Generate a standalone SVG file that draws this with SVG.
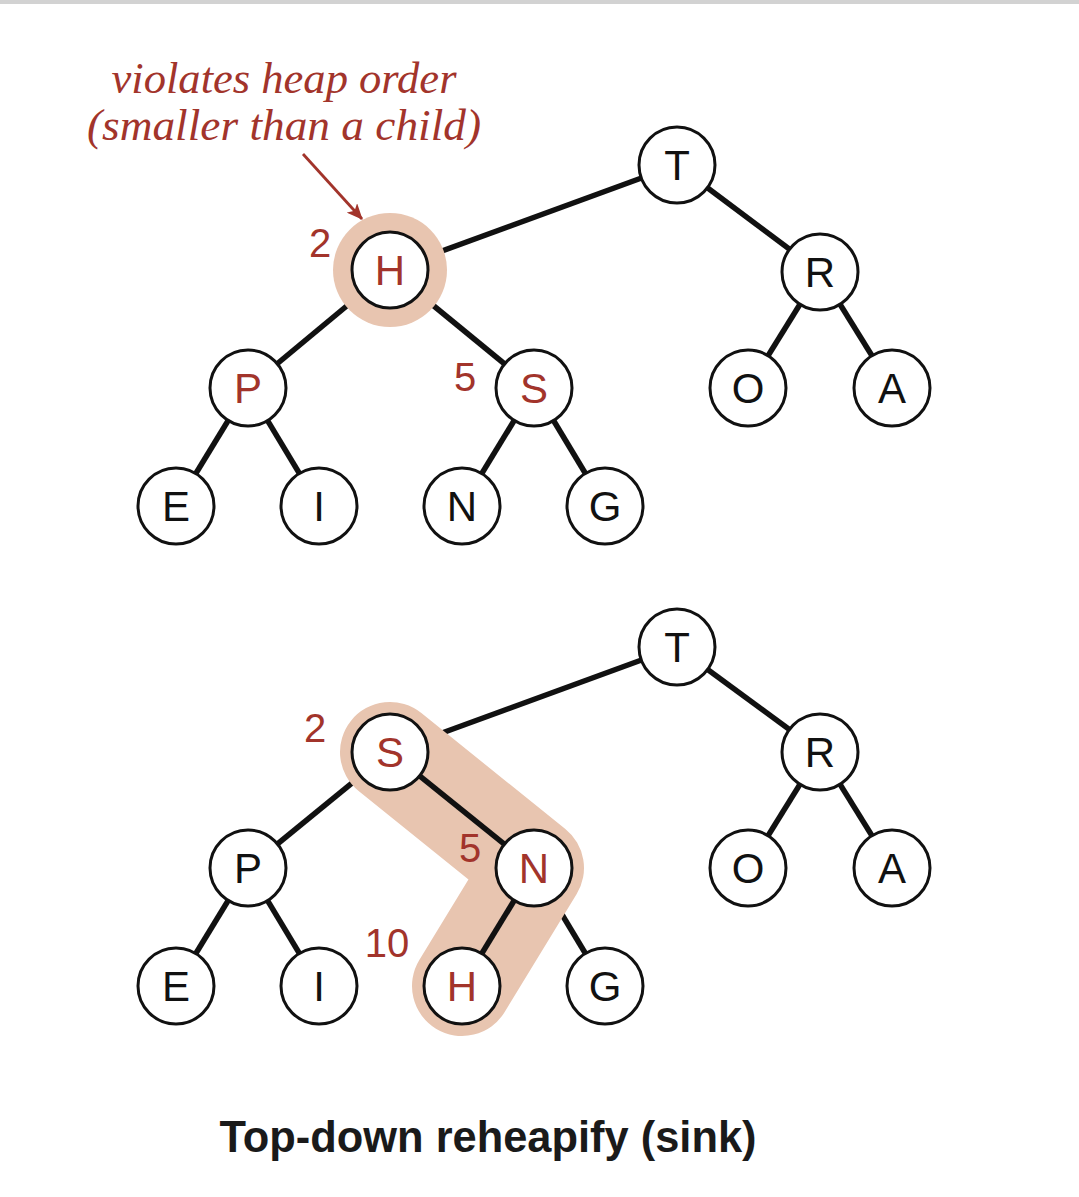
<svg xmlns="http://www.w3.org/2000/svg" width="1079" height="1197" viewBox="0 0 1079 1197">
<defs>
<style>
.edge{stroke:#111;stroke-width:5.5;stroke-linecap:butt;fill:none}
.node circle{fill:#fff;stroke:#111;stroke-width:3}
.node text{font-family:"Liberation Sans",Arial,sans-serif;font-size:42px;text-anchor:middle;fill:#111}
.node.hot text{fill:#a2342b}
.num{font-family:"Liberation Sans",Arial,sans-serif;font-size:40px;fill:#a2342b;text-anchor:middle}
.hl{fill:#e8c5b0;stroke:none}
.note{font-family:"Liberation Serif","Times New Roman",serif;font-style:italic;font-size:45px;fill:#a2342b;text-anchor:middle}
</style>
<marker id="ah" viewBox="0 0 16 14" refX="15" refY="7" markerWidth="16" markerHeight="14" markerUnits="userSpaceOnUse" orient="auto">
<path d="M0,0 L16,7 L0,14 L4,7 z" fill="#a2342b"/>
</marker>
</defs>
<rect x="0" y="0" width="1079" height="1197" fill="#fff"/>
<rect x="0" y="0" width="1079" height="4" fill="#d2d2d2"/>

<g id="connectors">
<line class="edge" x1="677" y1="165" x2="390" y2="270"/>
<line class="edge" x1="677" y1="165" x2="820" y2="272"/>
<line class="edge" x1="390" y1="270" x2="248" y2="388"/>
<line class="edge" x1="390" y1="270" x2="534" y2="388"/>
<line class="edge" x1="820" y1="272" x2="748" y2="388"/>
<line class="edge" x1="820" y1="272" x2="892" y2="388"/>
<line class="edge" x1="248" y1="388" x2="176" y2="506"/>
<line class="edge" x1="248" y1="388" x2="319" y2="506"/>
<line class="edge" x1="534" y1="388" x2="462" y2="506"/>
<line class="edge" x1="534" y1="388" x2="605" y2="506"/>
<line class="edge" x1="677" y1="647" x2="390" y2="752"/>
<line class="edge" x1="677" y1="647" x2="820" y2="752"/>
<line class="edge" x1="390" y1="752" x2="248" y2="868"/>
<line class="edge" x1="820" y1="752" x2="748" y2="868"/>
<line class="edge" x1="820" y1="752" x2="892" y2="868"/>
<line class="edge" x1="248" y1="868" x2="176" y2="986"/>
<line class="edge" x1="248" y1="868" x2="319" y2="986"/>
<line class="edge" x1="534" y1="868" x2="605" y2="986"/>
</g>

<g id="highlights">
<circle class="hl" cx="390" cy="270" r="57"/>
<polyline points="390,752 534,868 462,986" fill="none" stroke="#e8c5b0" stroke-width="100" stroke-linecap="round" stroke-linejoin="round"/>
</g>

<g id="connectors-path">
<line class="edge" x1="390" y1="752" x2="534" y2="868"/>
<line class="edge" x1="534" y1="868" x2="462" y2="986"/>
</g>

<g id="annotation">
<text class="note" x="284" y="93" textLength="345" lengthAdjust="spacingAndGlyphs">violates heap order</text>
<text class="note" x="284" y="140" textLength="394" lengthAdjust="spacingAndGlyphs">(smaller than a child)</text>
<line x1="303" y1="154" x2="362" y2="219" stroke="#a2342b" stroke-width="2.8" marker-end="url(#ah)"/>
</g>

<g id="t1-T" class="node"><circle cx="677" cy="165" r="38"/><text x="677" y="180">T</text></g>
<g id="t1-H" class="node hot"><circle cx="390" cy="270" r="38"/><text x="390" y="285">H</text></g>
<g id="t1-R" class="node"><circle cx="820" cy="272" r="38"/><text x="820" y="287">R</text></g>
<g id="t1-P" class="node hot"><circle cx="248" cy="388" r="38"/><text x="248" y="403">P</text></g>
<g id="t1-S" class="node hot"><circle cx="534" cy="388" r="38"/><text x="534" y="403">S</text></g>
<g id="t1-O" class="node"><circle cx="748" cy="388" r="38"/><text x="748" y="403">O</text></g>
<g id="t1-A" class="node"><circle cx="892" cy="388" r="38"/><text x="892" y="403">A</text></g>
<g id="t1-E" class="node"><circle cx="176" cy="506" r="38"/><text x="176" y="521">E</text></g>
<g id="t1-I" class="node"><circle cx="319" cy="506" r="38"/><text x="319" y="521">I</text></g>
<g id="t1-N" class="node"><circle cx="462" cy="506" r="38"/><text x="462" y="521">N</text></g>
<g id="t1-G" class="node"><circle cx="605" cy="506" r="38"/><text x="605" y="521">G</text></g>

<g id="t2-T" class="node"><circle cx="677" cy="647" r="38"/><text x="677" y="662">T</text></g>
<g id="t2-S" class="node hot"><circle cx="390" cy="752" r="38"/><text x="390" y="767">S</text></g>
<g id="t2-R" class="node"><circle cx="820" cy="752" r="38"/><text x="820" y="767">R</text></g>
<g id="t2-P" class="node"><circle cx="248" cy="868" r="38"/><text x="248" y="883">P</text></g>
<g id="t2-N" class="node hot"><circle cx="534" cy="868" r="38"/><text x="534" y="883">N</text></g>
<g id="t2-O" class="node"><circle cx="748" cy="868" r="38"/><text x="748" y="883">O</text></g>
<g id="t2-A" class="node"><circle cx="892" cy="868" r="38"/><text x="892" y="883">A</text></g>
<g id="t2-E" class="node"><circle cx="176" cy="986" r="38"/><text x="176" y="1001">E</text></g>
<g id="t2-I" class="node"><circle cx="319" cy="986" r="38"/><text x="319" y="1001">I</text></g>
<g id="t2-H" class="node hot"><circle cx="462" cy="986" r="38"/><text x="462" y="1001">H</text></g>
<g id="t2-G" class="node"><circle cx="605" cy="986" r="38"/><text x="605" y="1001">G</text></g>

<g id="indices">
<text class="num" x="320" y="257">2</text>
<text class="num" x="465" y="391">5</text>
<text class="num" x="315" y="742">2</text>
<text class="num" x="470" y="862">5</text>
<text class="num" x="387" y="957">10</text>
</g>

<text x="488" y="1152" font-family="'Liberation Sans',Arial,sans-serif" font-weight="bold" font-size="44" text-anchor="middle" fill="#1a1a1a" textLength="537" lengthAdjust="spacingAndGlyphs">Top-down reheapify (sink)</text>
</svg>
